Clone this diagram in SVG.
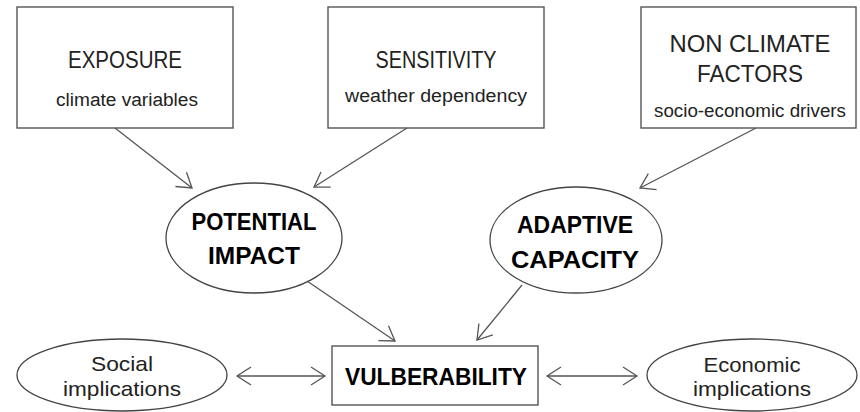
<svg xmlns="http://www.w3.org/2000/svg" width="860" height="412" viewBox="0 0 860 412">
<style>
.box{fill:#fff;stroke:#555;stroke-width:1.4}
.ell{fill:#fff;stroke:#444;stroke-width:1.3}
.t{font-family:"Liberation Sans",Arial,sans-serif;fill:#222;text-anchor:middle}
.h{font-size:23px}
.s{font-size:18px}
.b{font-size:24px;font-weight:bold;fill:#000}
.m{font-size:21px}
.c{stroke:#555;stroke-width:1.3;fill:none}
</style>
<defs>
<marker id="ah" viewBox="0 0 24 24" refX="22" refY="12" markerWidth="24" markerHeight="24" markerUnits="userSpaceOnUse" orient="auto-start-reverse">
<path d="M8,3 L22,12 L8,21" fill="none" stroke="#555" stroke-width="1.3"/>
</marker>
</defs>
<g id="exposure">
<rect class="box" x="17" y="7" width="216" height="121"/>
<text class="t h" x="125" y="68" textLength="114" lengthAdjust="spacingAndGlyphs">EXPOSURE</text>
<text class="t s" x="127" y="106" textLength="142" lengthAdjust="spacingAndGlyphs">climate variables</text>
</g>
<g id="sensitivity">
<rect class="box" x="328" y="7" width="216" height="121"/>
<text class="t h" x="436" y="68" textLength="121" lengthAdjust="spacingAndGlyphs">SENSITIVITY</text>
<text class="t s" x="436" y="102" textLength="182" lengthAdjust="spacingAndGlyphs">weather dependency</text>
</g>
<g id="nonclimate">
<rect class="box" x="641" y="7" width="215" height="121"/>
<text class="t h" x="750" y="52" textLength="161" lengthAdjust="spacingAndGlyphs">NON CLIMATE</text>
<text class="t h" x="750" y="82" textLength="106" lengthAdjust="spacingAndGlyphs">FACTORS</text>
<text class="t s" x="750" y="117" textLength="192" lengthAdjust="spacingAndGlyphs">socio-economic drivers</text>
</g>
<g id="potential">
<ellipse class="ell" cx="254" cy="238" rx="88" ry="55"/>
<text class="t b" x="254" y="230" textLength="125" lengthAdjust="spacingAndGlyphs">POTENTIAL</text>
<text class="t b" x="254" y="264" textLength="92" lengthAdjust="spacingAndGlyphs">IMPACT</text>
</g>
<g id="adaptive">
<ellipse class="ell" cx="576" cy="240" rx="86" ry="53"/>
<text class="t b" x="575" y="233" textLength="116" lengthAdjust="spacingAndGlyphs">ADAPTIVE</text>
<text class="t b" x="575" y="268" textLength="128" lengthAdjust="spacingAndGlyphs">CAPACITY</text>
</g>
<g id="vulnerability">
<rect class="box" x="332" y="346" width="206" height="59"/>
<text class="t b" x="436" y="385" textLength="182" lengthAdjust="spacingAndGlyphs">VULBERABILITY</text>
</g>
<g id="social">
<ellipse class="ell" cx="122" cy="375" rx="105" ry="36"/>
<text class="t m" x="122" y="371" textLength="62" lengthAdjust="spacingAndGlyphs">Social</text>
<text class="t m" x="122" y="396" textLength="118" lengthAdjust="spacingAndGlyphs">implications</text>
</g>
<g id="economic">
<ellipse class="ell" cx="752" cy="375" rx="105" ry="36"/>
<text class="t m" x="752" y="372" textLength="97" lengthAdjust="spacingAndGlyphs">Economic</text>
<text class="t m" x="752" y="396" textLength="118" lengthAdjust="spacingAndGlyphs">implications</text>
</g>
<g id="connectors">
<line class="c" x1="115" y1="128" x2="192" y2="188" marker-end="url(#ah)"/>
<line class="c" x1="407" y1="128" x2="314" y2="187" marker-end="url(#ah)"/>
<line class="c" x1="756" y1="128" x2="640" y2="188" marker-end="url(#ah)"/>
<line class="c" x1="307" y1="281" x2="395" y2="341" marker-end="url(#ah)"/>
<line class="c" x1="522" y1="285" x2="477" y2="340" marker-end="url(#ah)"/>
<line class="c" x1="237" y1="376" x2="325" y2="376" marker-start="url(#ah)" marker-end="url(#ah)"/>
<line class="c" x1="547" y1="376" x2="637" y2="376" marker-start="url(#ah)" marker-end="url(#ah)"/>
</g>
</svg>
